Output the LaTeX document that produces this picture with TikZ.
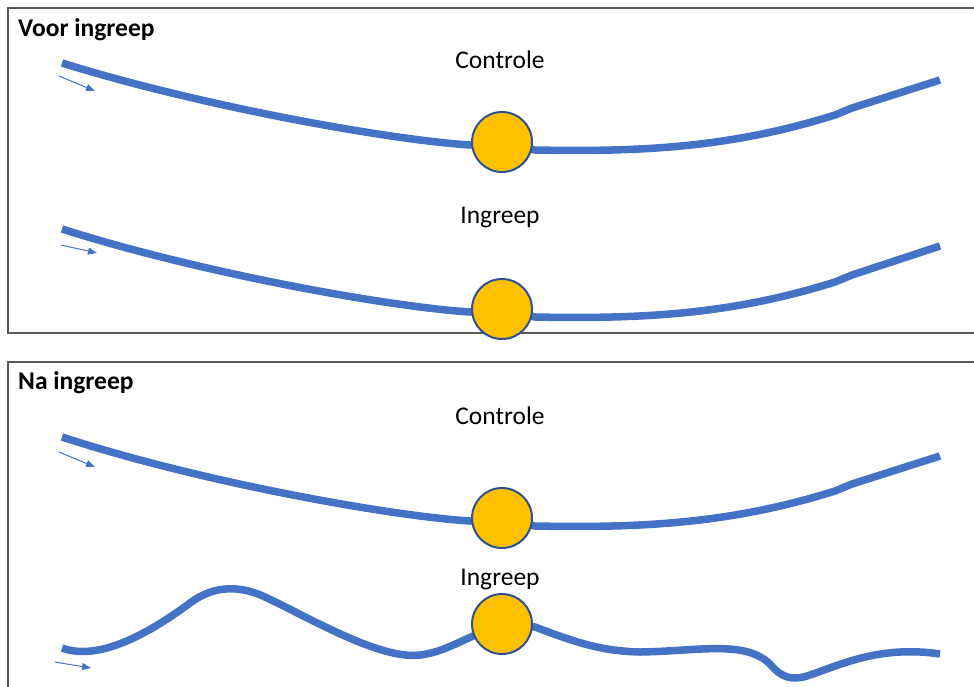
\documentclass[tikz,border=0pt]{standalone}
\usepackage{fontspec}
\setmainfont{Carlito}
\usetikzlibrary{backgrounds,arrows.meta}
\definecolor{wireblue}{HTML}{4472C4}
\definecolor{ballfill}{HTML}{FFC000}
\definecolor{balledge}{HTML}{2F528F}
\definecolor{framegray}{HTML}{595959}
\tikzset{
  wire/.style={draw=wireblue, line width=7.5pt},
  ball/.style={circle, fill=ballfill, draw=balledge, line width=2pt, minimum size=60pt, inner sep=0pt},
  flow/.style={draw=wireblue, line width=1pt, -{Triangle[length=9pt,width=7pt]}},
  panel/.style={draw=framegray, line width=1.2pt},
  title/.style={font=\fontsize{25.5}{30}\selectfont\bfseries, anchor=base west, inner sep=0pt},
  label/.style={font=\fontsize{25.5}{30}\selectfont, anchor=base, inner sep=0pt},
}
\begin{document}
\begin{tikzpicture}[x=1pt,y=-1pt]
\useasboundingbox (0,0) rectangle (974,686);
% panels
\begin{scope}
\clip (0,0) rectangle (974,686);
\draw[panel] (8,8) rectangle (990,333);
\draw[panel] (8,362) rectangle (990,700);
\end{scope}
% titles and labels
\node[title] (t1) at (18,36) {Voor ingreep};
\node[title] (t2) at (18,389) {Na ingreep};
\node[label] (l1) at (500,68) {Controle};
\node[label] (l2) at (500,223) {Ingreep};
\node[label] (l3) at (500,424) {Controle};
\node[label] (l4) at (500,585) {Ingreep};
% balls
\node[ball] (c1) at (502,142) {};
\node[ball] (c2) at (502,309) {};
\node[ball] (c3) at (502,518) {};
\node[ball] (c4) at (502,624) {};
% end points
\coordinate (s1) at (62,63);   \coordinate (e1) at (940,80);
\coordinate (s2) at (62,229);  \coordinate (e2) at (940,246);
\coordinate (s3) at (62,437);  \coordinate (e3) at (940,456);
\coordinate (s4) at (62,648);  \coordinate (e4) at (940,654);
% small arrows
\coordinate (a1s) at (59,76);  \coordinate (a1e) at (95,91);
\coordinate (a2s) at (61,245); \coordinate (a2e) at (97,253);
\coordinate (a3s) at (59,452); \coordinate (a3e) at (95,467);
\coordinate (a4s) at (55,662); \coordinate (a4e) at (91,668);
\draw[flow] (a1s) -- (a1e);
\draw[flow] (a2s) -- (a2e);
\draw[flow] (a3s) -- (a3e);
\draw[flow] (a4s) -- (a4e);
\begin{pgfonlayer}{background}
% controle / ingreep (before)
\foreach \s/\c/\e/\d in {s1/c1/e1/0, s2/c2/e2/167, s3/c3/e3/376}{
  \draw[wire] (\s) .. controls ([yshift=-\d pt]200,106) and ([yshift=-\d pt]390,140) .. ([yshift=-\d pt]470,145) -- (\c.center)
    -- ([yshift=-\d pt]535,150) .. controls ([yshift=-\d pt]640,152) and ([yshift=-\d pt]730,148) .. ([yshift=-\d pt]835,115)
    -- ([yshift=-\d pt]852,108) -- (\e);
}
% wavy curve after intervention
\draw[wire] (s4) .. controls (95,660) and (140,640) .. (190,603)
  .. controls (210,588) and (235,583) .. (265,597)
  .. controls (310,618) and (380,660) .. (420,655)
  .. controls (445,652) and (460,640) .. (c4.center);
\draw[wire] (c4.center) -- (535,627)
  .. controls (575,642) and (600,651) .. (640,652)
  .. controls (700,651) and (745,640) .. (770,664)
  .. controls (780,676) and (790,682) .. (810,675)
  .. controls (840,665) and (880,645) .. (e4);
\end{pgfonlayer}
\end{tikzpicture}
\end{document}
